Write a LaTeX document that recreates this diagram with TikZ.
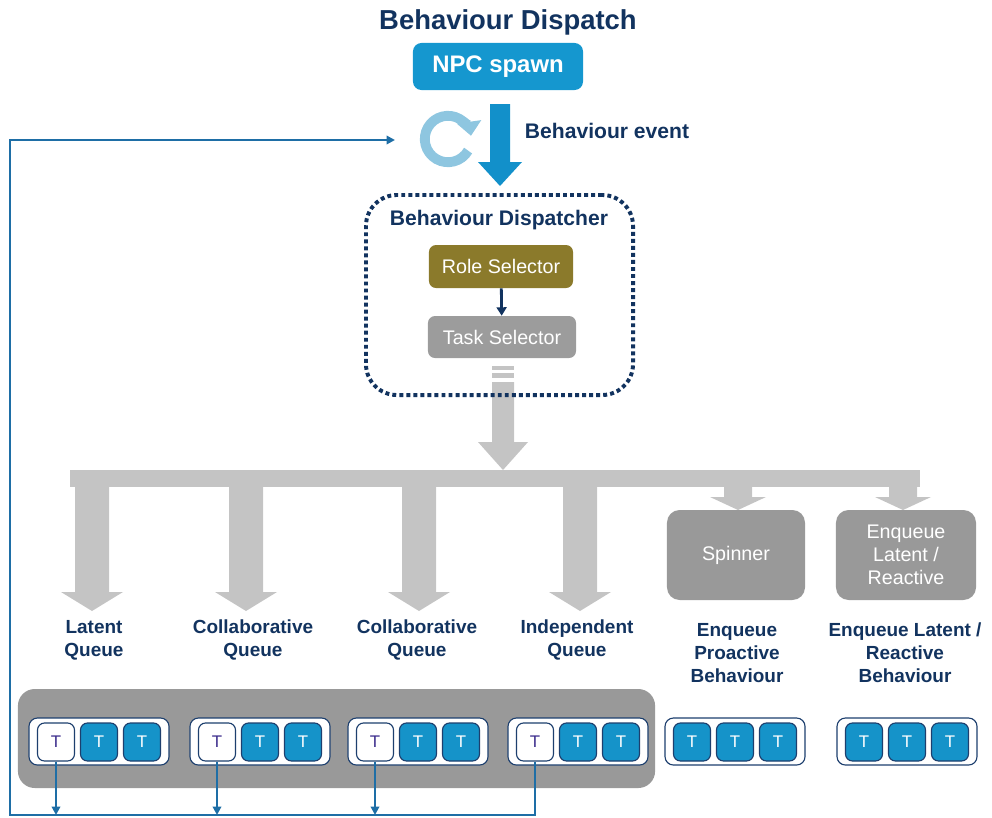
\documentclass[tikz,border=0pt]{standalone}
\usepackage{fontspec}
\setmainfont{Liberation Sans}
\usepackage{tikz}
\usetikzlibrary{positioning}
\usetikzlibrary{arrows.meta}
\usetikzlibrary{calc}

\definecolor{dispnavy}{HTML}{12335F}
\definecolor{npcblue}{HTML}{1597CF}
\definecolor{evblue}{HTML}{1290CA}
\definecolor{cycblue}{HTML}{8EC6E0}
\definecolor{fbblue}{HTML}{1E6EA6}
\definecolor{roleolive}{HTML}{8B7A2B}
\definecolor{taskgrey}{HTML}{9C9C9C}
\definecolor{fatgrey}{HTML}{C4C4C4}
\definecolor{panelgrey}{HTML}{999999}
\definecolor{tblue}{HTML}{1593C9}
\definecolor{tedge}{HTML}{1D3F6E}
\definecolor{tpurple}{HTML}{3B2C8C}

% fat block arrow: [colour] {centre x}{top y}{head y}{tip y}{half shaft}{half head}
\newcommand{\fatdown}[7][fatgrey]{%
  \fill[#1] (#2-#6,#3) -- (#2+#6,#3) -- (#2+#6,#4) -- (#2+#7,#4) -- (#2,#5)
            -- (#2-#7,#4) -- (#2-#6,#4) -- cycle;}

\tikzset{
  navytext/.style={text=dispnavy, font=\fontsize{13.5}{16.4}\selectfont\bfseries, align=center},
  selbox/.style={rounded corners=5pt, text=white, font=\fontsize{14}{16.4}\selectfont,
                 minimum width=3.6cm, minimum height=1.075cm, inner sep=0pt},
  actbox/.style={rounded corners=9pt, fill=panelgrey, text=white, align=center,
                 font=\fontsize{14}{16.4}\selectfont, minimum width=3.45cm, minimum height=2.25cm},
  tgroup/.style={draw=tedge, line width=0.8pt, fill=white, rounded corners=6pt,
                 minimum width=3.5cm, minimum height=1.175cm},
  tbox/.style={draw=tedge, line width=0.8pt, fill=tblue, text=white, rounded corners=5pt,
               minimum width=0.925cm, minimum height=0.95cm, inner sep=0pt,
               font=\fontsize{12}{12}\selectfont},
  tfirst/.style={tbox, fill=white, text=tpurple},
  fbline/.style={fbblue, line width=2pt},
  fbtip/.style={-{Triangle[length=6pt,width=6pt]}}
}

\begin{document}
\begin{tikzpicture}[x=0.025cm,y=-0.025cm]
  \useasboundingbox (0,0) rectangle (992,817);
  % title and spawn
  \node at (508,22) (ntitle) [text=dispnavy, font=\fontsize{19.5}{22}\selectfont\bfseries] {Behaviour Dispatch};
  \node at (498,66.5) (nnpc) [fill=npcblue, rounded corners=6pt, text=white,
        minimum width=4.25cm, minimum height=1.175cm,
        font=\fontsize{17}{20}\selectfont\bfseries] {NPC spawn};
  % behaviour event arrow and cycle
  \fatdown[evblue]{500}{104}{162}{186}{10}{22}
  \coordinate (ncyc) at (448,139);
  \draw[cycblue, line width=7pt, -{Triangle[length=10pt,width=17pt]}]
        ([shift={(-30:16.5pt)}]ncyc) arc[start angle=-30, end angle=-352, radius=16.5pt];
  \node at (520,131) (nevent) [anchor=west, navytext, font=\fontsize{15}{18}\selectfont\bfseries] {Behaviour event};
  % grey arrow out of the dispatcher
  \fill[fatgrey] (492,366) rectangle (514,370);
  \fill[fatgrey] (492,373) rectangle (514,378);
  \fatdown{503}{382}{442}{470}{11}{25}
  % dispatcher
  \node at (499.5,295) (ndisp) [draw=dispnavy, line width=2.8pt, dash pattern=on 2.8pt off 2.2pt,
        rounded corners=22pt, minimum width=6.675cm, minimum height=5cm] {};
  \node at (499,220) (ndisptitle) [navytext, font=\fontsize{15}{18}\selectfont\bfseries] {Behaviour Dispatcher};
  \node at (501,266.5) (nrole) [selbox, fill=roleolive] {Role Selector};
  \node at (502,337) (ntask) [selbox, fill=taskgrey, minimum width=3.7cm, minimum height=1.05cm] {Task Selector};
  \draw[dispnavy, line width=2pt, -{Triangle[length=6pt,width=7pt]}] (nrole) -- (ntask);
  % branching bar
  \fill[fatgrey] (70,470) rectangle (920,487);
  \fatdown{92}{480}{592}{611}{17}{31}
  \fatdown{246}{480}{592}{611}{17}{31}
  \fatdown{419}{480}{592}{611}{17}{31}
  \fatdown{580}{480}{592}{611}{17}{31}
  \fatdown{738}{480}{497}{510}{14}{28}
  \fatdown{903}{480}{497}{510}{14}{28}
  % queues
  \node at (94,640)  (nq1) [navytext] {Latent\\Queue};
  \node at (253,640) (nq2) [navytext] {Collaborative\\Queue};
  \node at (417,640) (nq3) [navytext] {Collaborative\\Queue};
  \node at (577,640) (nq4) [navytext] {Independent\\Queue};
  \node at (736,555) (nspin) [actbox] {Spinner};
  \node at (906,555) (nenq)  [actbox, minimum width=3.5cm] {Enqueue\\Latent /\\Reactive};
  \node at (737,653) (nq5) [navytext] {Enqueue\\Proactive\\Behaviour};
  \node at (905,653) (nq6) [navytext] {Enqueue Latent /\\Reactive\\Behaviour};
  % task panel
  \node at (336.5,738.5) (npanel) [fill=panelgrey, rounded corners=12pt,
        minimum width=15.925cm, minimum height=2.475cm] {};
  \node at (99,741.5)  (ng1) [tgroup] {};
  \node at (56,742)    (nt11) [tfirst] {T};
  \node at (99,742)    (nt12) [tbox] {T};
  \node at (142,742)   (nt13) [tbox] {T};
  \node at (260,741.5) (ng2) [tgroup] {};
  \node at (217,742)   (nt21) [tfirst] {T};
  \node at (260,742)   (nt22) [tbox] {T};
  \node at (303,742)   (nt23) [tbox] {T};
  \node at (418,741.5) (ng3) [tgroup] {};
  \node at (375,742)   (nt31) [tfirst] {T};
  \node at (418,742)   (nt32) [tbox] {T};
  \node at (461,742)   (nt33) [tbox] {T};
  \node at (578,741.5) (ng4) [tgroup] {};
  \node at (535,742)   (nt41) [tfirst] {T};
  \node at (578,742)   (nt42) [tbox] {T};
  \node at (621,742)   (nt43) [tbox] {T};
  \node at (735,741.5) (ng5) [tgroup] {};
  \node at (692,742)   (nt51) [tbox] {T};
  \node at (735,742)   (nt52) [tbox] {T};
  \node at (778,742)   (nt53) [tbox] {T};
  \node at (907,741.5) (ng6) [tgroup] {};
  \node at (864,742)   (nt61) [tbox] {T};
  \node at (907,742)   (nt62) [tbox] {T};
  \node at (950,742)   (nt63) [tbox] {T};
  % feedback loop
  \coordinate (nfbleft) at (10,815);
  \coordinate (nfbin) at (395,140);
  \draw[fbline, fbtip] (nt41.south) |- (nfbleft) |- (nfbin);
  \draw[fbline, fbtip] (nt11.south) -- (nt11.south |- nfbleft);
  \draw[fbline, fbtip] (nt21.south) -- (nt21.south |- nfbleft);
  \draw[fbline, fbtip] (nt31.south) -- (nt31.south |- nfbleft);
\end{tikzpicture}
\end{document}
